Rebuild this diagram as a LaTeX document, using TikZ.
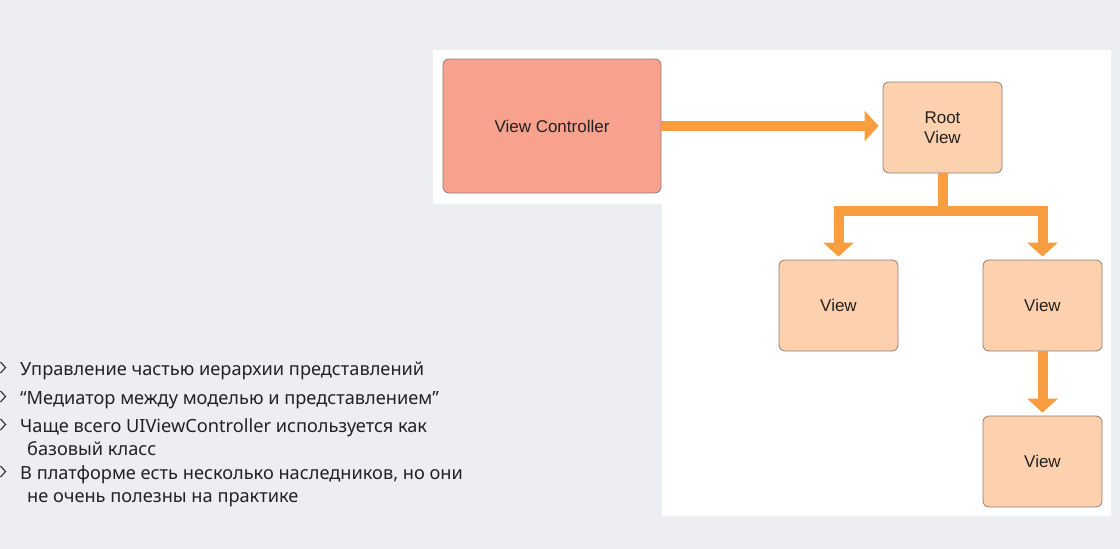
\documentclass[tikz,border=0pt]{standalone}
\usepackage{fontspec}
\setmainfont{Noto Sans}
\newfontfamily\diagfont{Liberation Sans}
\usetikzlibrary{arrows.meta}
\definecolor{bg}{HTML}{ECEEF2}
\definecolor{vcfill}{HTML}{F8A18C}
\definecolor{vfill}{HTML}{FDD1AE}
\definecolor{boxline}{HTML}{8E7E76}
\definecolor{arrcol}{HTML}{F99E40}
\definecolor{txt}{HTML}{222222}
\tikzset{
  box/.style={draw=boxline, line width=0.8pt, rounded corners=6pt, align=center,
    font=\diagfont\fontsize{17}{19.5}\selectfont, text=txt, inner sep=0pt},
  vcbox/.style={box, fill=vcfill, minimum width=218pt, minimum height=134pt},
  viewbox/.style={box, fill=vfill, minimum width=119pt, minimum height=91pt},
  flow/.style={draw=arrcol, line width=10pt, line join=miter,
    -{Triangle[width=30pt,length=14pt]}},
  bul/.style={draw=txt!90, line width=1.2pt, line join=miter},
  item/.style={anchor=base west, inner sep=0pt, text=txt,
    font=\fontsize{18.2}{22}\selectfont}
}
\begin{document}
\begin{tikzpicture}[x=1pt,y=-1pt]
\fill[bg] (0,0) rectangle (1120,549);
\useasboundingbox (0,0) rectangle (1120,549);
\fill[white] (433,50) -- (1111,50) -- (1111,516) -- (662,516) -- (662,204) -- (433,204) -- cycle;

\node[vcbox] (vc) at (552,126) {View Controller};
\node[viewbox] (root) at (942.5,127.5) {Root\\View};
\node[viewbox] (v1) at (838.5,305.5) {View};
\node[viewbox] (v2) at (1042.5,305.5) {View};
\node[viewbox] (v3) at (1042.5,461.5) {View};

\coordinate (j) at (942.5,211);
\draw[flow, shorten >=4pt] (vc.east) -- (vc.east -| root.west);
\draw[flow, shorten >=3pt] (root.south) -- (j) -| (v1.north);
\draw[flow, shorten >=3pt] (root.south) -- (j) -| (v2.north);
\draw[flow, shorten >=3pt] (v2.south) -- (v3.north);

\foreach \b in {375,404,432,479}{
  \draw[bul] (0.5,\b-13) -- (5.5,\b-7.5) -- (0.5,\b-2);
}
\node[item] (t1) at (20,375) {Управление частью иерархии представлений};
\node[item] (t2) at (20,404) {“Медиатор между моделью и представлением”};
\node[item] (t3) at (20,432) {Чаще всего UIViewController используется как};
\node[item] (t3b) at (27,455) {базовый класс};
\node[item] (t4) at (20,479) {В платформе есть несколько наследников, но они};
\node[item] (t4b) at (27,502) {не очень полезны на практике};
\end{tikzpicture}
\end{document}
